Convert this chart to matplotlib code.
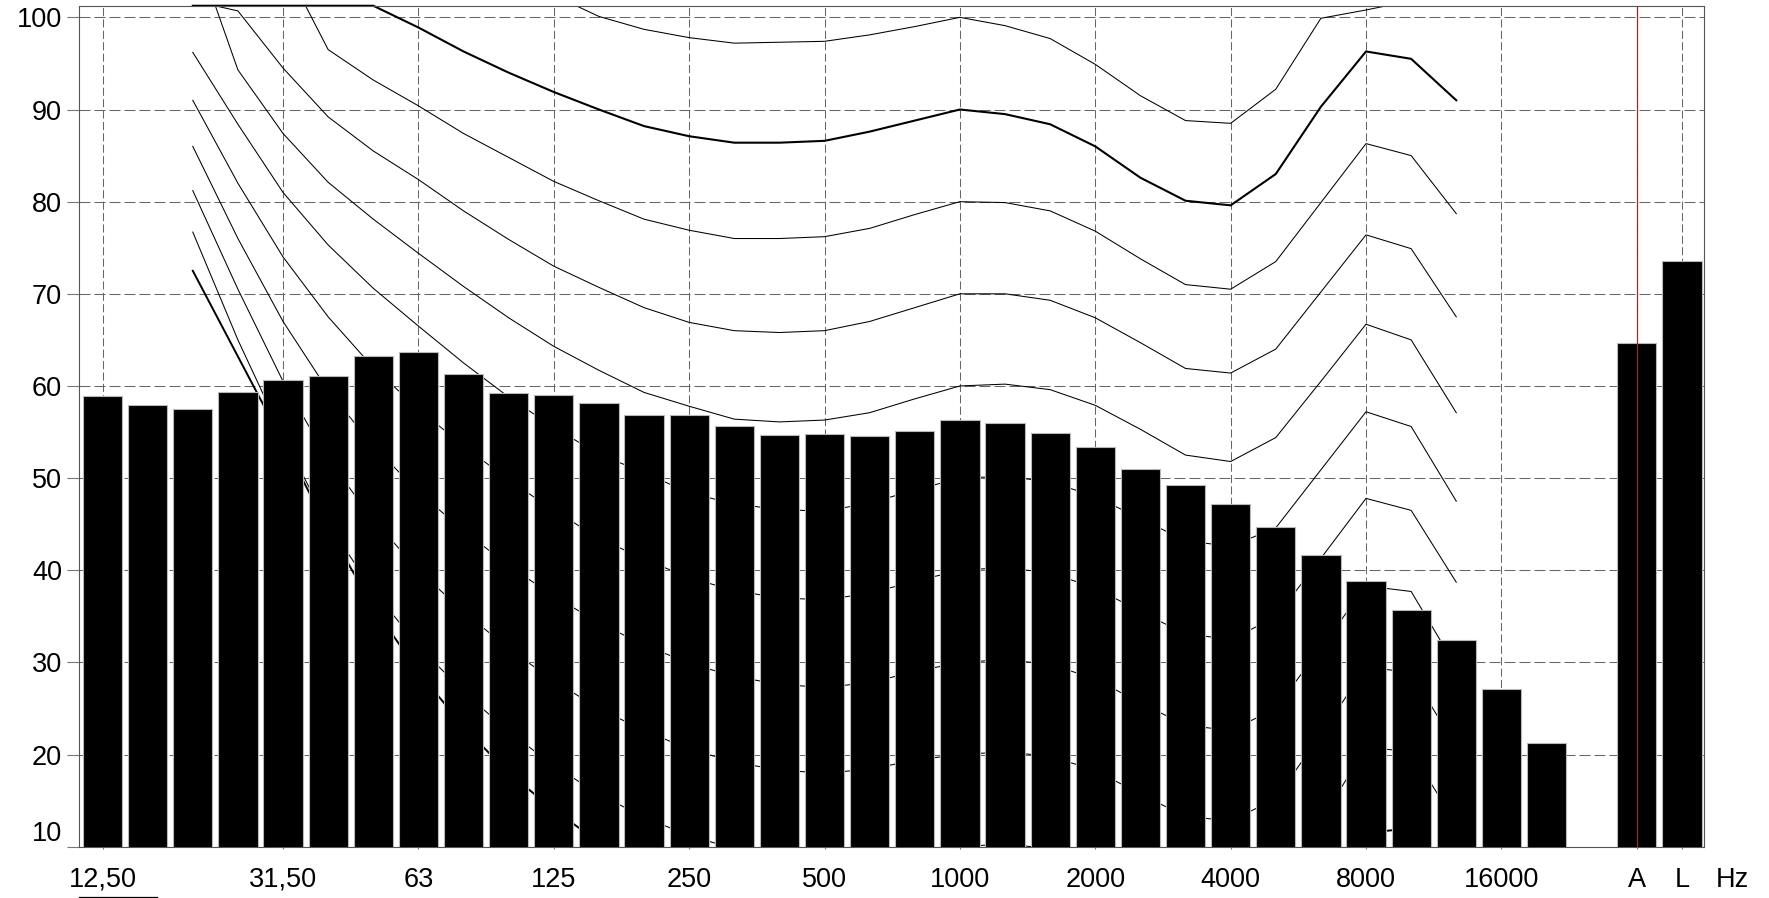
import matplotlib
matplotlib.use("Agg")
import matplotlib.pyplot as plt
import matplotlib.transforms as mtransforms
from matplotlib.lines import Line2D
import numpy as np

plt.rcParams["font.family"] = ["Liberation Sans", "DejaVu Sans"]
plt.rcParams["lines.scale_dashes"] = False

# third-octave bands, 12.5 Hz .. 20 kHz
bands = ["12,50", "16", "20", "25", "31,50", "40", "50", "63", "80", "100", "125", "160",
         "200", "250", "315", "400", "500", "630", "800", "1000", "1250", "1600", "2000",
         "2500", "3150", "4000", "5000", "6300", "8000", "10000", "12500", "16000", "20000"]
levels = [58.9, 57.9, 57.5, 59.3, 60.6, 61.1, 63.2, 63.7, 61.3, 59.2, 59.0, 58.2,
          56.9, 56.9, 55.7, 54.7, 54.8, 54.6, 55.1, 56.3, 56.0, 54.9, 53.4,
          51.0, 49.2, 47.2, 44.7, 41.7, 38.8, 35.7, 32.4, 27.1, 21.3]

# overall levels, drawn after one empty slot
totals = ["A", "L"]
total_levels = [64.7, 73.6]

tick_bands = ["12,50", "31,50", "63", "125", "250", "500", "1000", "2000", "4000", "8000", "16000"]
y_ticks = [10, 20, 30, 40, 50, 60, 70, 80, 90, 100]

# equal loudness contours, bands 20 Hz .. 12500 Hz
contour_first, contour_last = "20", "12500"
contour_100 = [118, 116, 114, 112, 110, 108, 105.5, 104, 102.4, 100.1, 98.7, 97.8, 97.2, 97.3, 97.4,
               98.1, 99.0, 100.0, 99.1, 97.7, 94.9, 91.5, 88.8, 88.5, 92.2, 99.9, 100.8, 101.8, 102.5]
contour_90 = [114, 111, 108.5, 106, 104.0, 98.9, 96.3, 94.0, 91.9, 90.0, 88.2, 87.1, 86.4, 86.4, 86.6,
              87.6, 88.8, 90.0, 89.5, 88.4, 86.0, 82.6, 80.1, 79.6, 83.0, 90.3, 96.3, 95.5, 91.0]
contour_80 = [112, 109, 106.0, 96.5, 93.2, 90.4, 87.4, 84.8, 82.2, 80.1, 78.1, 76.9, 76.0, 76.0, 76.2,
              77.1, 78.6, 80.0, 79.9, 79.0, 76.8, 73.8, 71.0, 70.5, 73.5, 79.9, 86.3, 85.0, 78.7]
contour_70 = [101.8, 100.7, 94.5, 89.2, 85.5, 82.4, 79.0, 75.9, 73.0, 70.7, 68.5, 66.9, 66.0, 65.8, 66.0,
              67.0, 68.5, 70.0, 70.0, 69.3, 67.4, 64.7, 61.9, 61.4, 64.0, 70.2, 76.4, 74.9, 67.5]
contour_60 = [108.2, 94.3, 87.4, 82.1, 78.1, 74.4, 70.8, 67.4, 64.3, 61.7, 59.3, 57.8, 56.4, 56.1, 56.3,
              57.1, 58.6, 60.0, 60.2, 59.6, 57.9, 55.3, 52.5, 51.8, 54.4, 60.5, 66.7, 65.0, 57.1]
contour_50 = [96.2, 88.4, 81.0, 75.3, 70.6, 66.5, 62.5, 58.8, 55.5, 52.6, 50.6, 48.4, 47.2, 46.6, 46.4,
              47.3, 48.7, 50.0, 50.2, 49.6, 48.0, 45.6, 43.2, 42.6, 44.6, 50.9, 57.2, 55.6, 47.5]
contour_40 = [91.0, 82.0, 74.0, 67.5, 62.0, 57.5, 53.5, 49.8, 46.5, 43.5, 41.2, 39.2, 37.8, 37.0, 36.8,
              37.5, 38.8, 40.0, 40.3, 39.7, 38.1, 35.5, 33.1, 32.5, 34.9, 41.3, 47.8, 46.5, 38.7]
contour_30 = [86.0, 76.0, 67.0, 59.5, 53.5, 48.5, 44.3, 40.5, 37.2, 34.3, 31.9, 29.9, 28.5, 27.6, 27.3,
              27.8, 29.0, 30.0, 30.3, 29.8, 28.2, 25.6, 23.2, 22.6, 25.0, 31.6, 38.3, 37.7, 29.5]
contour_20 = [81.2, 70.5, 60.5, 52.0, 45.5, 40.0, 35.5, 31.5, 28.0, 25.0, 22.6, 20.6, 19.2, 18.3, 18.0,
              18.4, 19.4, 20.0, 20.3, 19.8, 18.3, 15.7, 13.3, 12.8, 15.2, 22.2, 29.5, 28.9, 20.8]
contour_10 = [76.7, 65.0, 54.5, 45.0, 37.8, 31.8, 26.8, 22.5, 18.8, 15.7, 13.2, 11.2, 9.8, 9.0, 8.8,
              9.0, 9.8, 10.0, 10.3, 9.8, 8.4, 6.0, 3.6, 3.2, 5.6, 12.8, 20.8, 20.3, 12.5]
contour_0 = [72.5, 63.2, 53.9, 44.5, 36.0, 29.0, 23.0, 18.0, 14.0, 10.5, 8.0, 6.0, 4.5, 3.5, 3.0,
             2.5, 2.5, 2.5, 2.0, 1.0, -1.0, -3.0, -5.0, -5.0, -3.0, 3.0, 11.5, 12.0, 5.0]

thin_contours = [contour_100, contour_80, contour_70, contour_60, contour_50,
                 contour_40, contour_30, contour_20, contour_10]

y_min, y_max = 10, 101.26

fig = plt.figure(figsize=(17.69, 8.98), dpi=100)
ax = fig.add_axes([0.0447, 0.0571, 0.9183, 0.9365])

band_x = np.arange(len(bands))
total_x = len(bands) + 1 + np.arange(len(totals))
contour_x = np.arange(bands.index(contour_first), bands.index(contour_last) + 1)

# contours sit behind the bars
for c in thin_contours:
    ax.plot(contour_x, c, color="black", lw=0.75, zorder=2)
# the 90 contour is held at the top edge where it runs off the scale
ax.plot(contour_x, np.minimum(contour_90, y_max), color="black", lw=1.5, zorder=2, clip_on=False)
ax.plot(contour_x, contour_0, color="black", lw=1.4, zorder=2)

ax.bar(band_x, levels, width=0.87, color="black", edgecolor="#b8b8b8", linewidth=0.8, zorder=3)
ax.bar(total_x, total_levels, width=0.87, color="black", edgecolor="#b8b8b8", linewidth=0.8, zorder=3)

# marker line on the A column
ax.axvline(total_x[0], color="red", lw=0.9, zorder=4)

xticks = [bands.index(b) for b in tick_bands] + list(total_x)
ax.set_xticks(xticks)
ax.set_xticklabels(tick_bands + totals)
ax.set_yticks(y_ticks)
ax.set_yticklabels([str(v) for v in y_ticks])
ax.set_xlim(-0.52, total_x[-1] + 0.48)
ax.set_ylim(y_min, y_max)

ax.set_axisbelow(True)
ax.xaxis.grid(True, color="#666666", lw=0.75, linestyle=(0, (5.8, 2.4)))
ax.yaxis.grid(True, color="#666666", lw=0.75, linestyle=(0, (7.9, 2.9)))

for s in ax.spines.values():
    s.set_color("#555555")
    s.set_linewidth(0.8)

ax.tick_params(axis="x", length=1.5, width=0.8, color="#777777", pad=13, labelsize=19.5)
ax.tick_params(axis="y", length=8.6, width=0.8, color="#777777", pad=3.7, labelsize=19.5)
ax.get_yticklabels()[0].set_va("bottom")

# unit label to the right of the last column
ax.annotate("Hz", xy=(total_x[-1] + 1.12, 0), xycoords=("data", "axes fraction"),
            xytext=(0, -14.5), textcoords="offset points", ha="center", va="top", fontsize=19.5)

# short rule under the first band label
under = mtransforms.blended_transform_factory(ax.transData, fig.transFigure)
fig.add_artist(Line2D([-0.52, 1.21], [0.0016, 0.0016], transform=under, color="black", lw=0.9))

fig.savefig("out.png", dpi=100)
